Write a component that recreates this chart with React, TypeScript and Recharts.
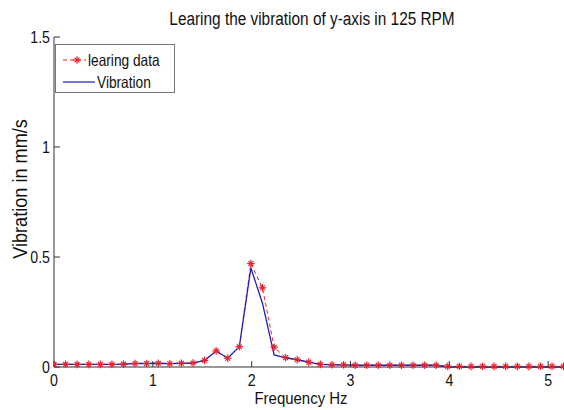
import React from 'react'
import { LineChart, Line, XAxis, YAxis, Legend, Customized } from 'recharts'

const FONT = "'Liberation Sans', Arial, sans-serif"

// frequency bins (Hz)
const freq = [
  0, 0.117, 0.234, 0.352, 0.469, 0.586, 0.703, 0.820, 0.938, 1.055,
  1.172, 1.289, 1.406, 1.523, 1.641, 1.758, 1.875, 1.992, 2.109, 2.227,
  2.344, 2.461, 2.578, 2.695, 2.813, 2.930, 3.047, 3.164, 3.281, 3.398,
  3.516, 3.633, 3.750, 3.867, 3.984, 4.102, 4.219, 4.336, 4.453, 4.570,
  4.688, 4.805, 4.922, 5.039, 5.156,
]

const learingData = [
  0.012, 0.012, 0.012, 0.012, 0.012, 0.012, 0.013, 0.016, 0.016, 0.017,
  0.015, 0.017, 0.018, 0.030, 0.073, 0.040, 0.092, 0.470, 0.360, 0.090,
  0.042, 0.033, 0.022, 0.012, 0.010, 0.010, 0.008, 0.008, 0.008, 0.008,
  0.008, 0.008, 0.008, 0.008, 0.003, 0.003, 0.003, 0.003, 0.003, 0.003,
  0.003, 0.003, 0.003, 0.003, 0.003,
]

const vibration = [
  0.012, 0.012, 0.012, 0.012, 0.012, 0.012, 0.013, 0.016, 0.016, 0.017,
  0.015, 0.017, 0.018, 0.030, 0.073, 0.040, 0.092, 0.450, 0.290, 0.055,
  0.042, 0.033, 0.022, 0.012, 0.010, 0.010, 0.008, 0.008, 0.008, 0.008,
  0.008, 0.008, 0.008, 0.008, 0, 0, 0, 0, 0, 0,
  0, 0, 0, 0, 0,
]

const xTicks = [0, 1, 2, 3, 4, 5]
const yTicks = [0, 0.5, 1, 1.5]

const data = freq.map((f, i) => ({ f, learing: learingData[i], vib: vibration[i] }))

const RED = '#e8202c'
const BLUE = '#1e1eb0'
const INK = '#111'

// matlab export used a condensed face, squeeze Liberation Sans horizontally
function NText({ x, y, size, k = 0.85, anchor = 'middle', angle = 0, children }: any) {
  return (
    <text
      transform={`translate(${x},${y}) rotate(${angle}) scale(${k},1)`}
      textAnchor={anchor}
      fontFamily={FONT}
      fontSize={size}
      fill={INK}
    >
      {children}
    </text>
  )
}

function XTick(props: any) {
  const { x, payload } = props
  return <NText x={x} y={386} size={16.5} k={0.86}>{payload.value}</NText>
}

function YTick(props: any) {
  const { y, payload } = props
  return <NText x={50} y={y + 6} size={16.5} k={0.86} anchor="end">{payload.value}</NText>
}

function Star(props: any) {
  const { cx, cy } = props
  if (cx == null || cy == null) return null
  const r = 3.8
  const d = 2.4
  return (
    <g stroke={RED} strokeWidth={1.2}>
      <line x1={cx - r} y1={cy} x2={cx + r} y2={cy} />
      <line x1={cx} y1={cy - r} x2={cx} y2={cy + r} />
      <line x1={cx - d} y1={cy - d} x2={cx + d} y2={cy + d} />
      <line x1={cx - d} y1={cy + d} x2={cx + d} y2={cy - d} />
    </g>
  )
}

function LegendBox() {
  const row: React.CSSProperties = { display: 'flex', alignItems: 'center', height: 22, whiteSpace: 'nowrap' }
  const txt: React.CSSProperties = { display: 'inline-block', transform: 'scaleX(0.83)', transformOrigin: 'left center', marginLeft: 2 }
  return (
    <div style={{ width: 118, height: 43, border: '1px solid #777', background: '#fff', paddingTop: 4, fontFamily: FONT, fontSize: 16.5, color: INK, lineHeight: '22px' }}>
      <div style={row}>
        <svg width={32} height={12} style={{ marginLeft: 7 }}>
          <line x1={0} y1={6} x2={32} y2={6} stroke={RED} strokeDasharray="4 3" />
          <Star cx={14} cy={6} />
        </svg>
        <span style={txt}>learing data</span>
      </div>
      <div style={row}>
        <svg width={32} height={12} style={{ marginLeft: 7 }}>
          <line x1={0} y1={6} x2={32} y2={6} stroke={BLUE} strokeWidth={1.2} />
        </svg>
        <span style={txt}>Vibration</span>
      </div>
    </div>
  )
}

function Titles() {
  return (
    <g>
      <NText x={312} y={25} size={19} k={0.81}>Learing the vibration of y-axis in 125 RPM</NText>
      <NText x={301} y={404} size={17} k={0.88}>Frequency Hz</NText>
      <NText x={27} y={189} size={19.5} k={0.93} angle={-90}>Vibration in mm/s</NText>
    </g>
  )
}

export default function App() {
  return (
    <div style={{ position: 'absolute', left: 0, top: 0, background: '#fff' }}>
      <LineChart width={564} height={410} data={data} margin={{ top: 37, right: 0, bottom: 0, left: 0 }}>
        <XAxis
          dataKey="f"
          type="number"
          domain={[0, 5.16]}
          ticks={xTicks}
          allowDataOverflow
          height={43}
          stroke="#333"
          tickSize={-6}
          tickMargin={10}
          tick={<XTick />}
        />
        <YAxis
          type="number"
          domain={[0, 1.5]}
          ticks={yTicks}
          width={54}
          stroke="#333"
          tickSize={-6}
          tickMargin={10}
          tick={<YTick />}
        />
        <Legend
          layout="vertical"
          align="center"
          verticalAlign="middle"
          content={() => <LegendBox />}
          wrapperStyle={{ left: 55, top: 44, width: 'auto' }}
        />
        <Line dataKey="learing" stroke={RED} strokeWidth={1} strokeDasharray="4 3" dot={<Star />} activeDot={false} isAnimationActive={false} />
        <Line dataKey="vib" stroke={BLUE} strokeWidth={1.3} dot={false} activeDot={false} isAnimationActive={false} />
        <Customized component={Titles} />
      </LineChart>
    </div>
  )
}
